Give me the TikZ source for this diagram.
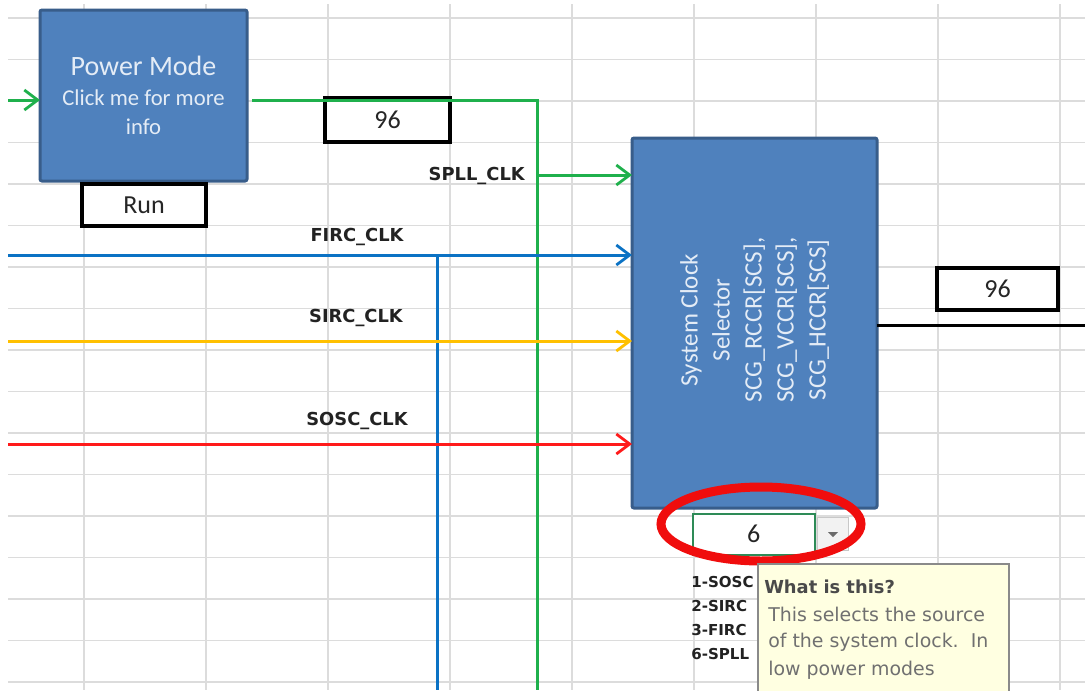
\documentclass[tikz,border=0pt]{standalone}
\usepackage{fontspec}
\setmainfont{Carlito}
\newfontfamily\dvsans{DejaVu Sans}
\usetikzlibrary{arrows.meta,calc,shapes.geometric}
\newlength{\pu}\setlength{\pu}{0.75pt}
\definecolor{boxblue}{HTML}{4F81BD}
\definecolor{boxedge}{HTML}{385D8A}
\definecolor{boxtext}{HTML}{E4ECF6}
\definecolor{gridc}{HTML}{DCDCDC}
\definecolor{lgreen}{HTML}{1FB04C}
\definecolor{lblue}{HTML}{0B72C4}
\definecolor{lyellow}{HTML}{FFC000}
\definecolor{lred}{HTML}{FF1A1A}
\definecolor{hlred}{HTML}{F00D0D}
\definecolor{cellgreen}{HTML}{2E8B57}
\definecolor{ddfill}{HTML}{F2F2F2}
\definecolor{ddedge}{HTML}{C8C8C8}
\definecolor{ddtri}{HTML}{6A6A6A}
\definecolor{tipfill}{HTML}{FFFFE1}
\definecolor{tipedge}{HTML}{8A8A8A}
\definecolor{tiptitle}{HTML}{4A4A4A}
\definecolor{tipbody}{HTML}{707070}
\definecolor{lbltext}{HTML}{222222}
\tikzset{
  gridline/.style={draw=gridc, line width=1.6\pu},
  bluebox/.style={draw=boxedge, fill=boxblue, line width=3\pu, rounded corners=2\pu,
    inner sep=0pt, outer sep=0pt, anchor=north west},
  cellbox/.style={draw=black, fill=white, line width=3.5\pu, inner sep=0pt, outer sep=0pt,
    anchor=north west, font=\fontsize{19.5}{22}\selectfont, text=black!85},
  wire/.style={line width=3\pu},
  arr/.style={-{Straight Barb[length=10pt, width=15pt, line width=2.1pt]}},
  gline/.style={wire, draw=lgreen},
  bline/.style={wire, draw=lblue},
  yline/.style={wire, draw=lyellow},
  rline/.style={wire, draw=lred},
  kline/.style={wire, draw=black},
  lbl/.style={font=\dvsans\bfseries\fontsize{13.4}{15}\selectfont, text=lbltext, inner sep=0pt},
  listlbl/.style={font=\dvsans\bfseries\fontsize{11.3}{13}\selectfont, text=lbltext, inner sep=0pt, anchor=west},
  tiptxt/.style={font=\dvsans\fontsize{14.2}{16}\selectfont, text=tipbody, inner sep=0pt, anchor=west},
}
\begin{document}
\begin{tikzpicture}[x=0.75pt, y=-0.75pt]
\useasboundingbox (0,0) rectangle (1085,690);
\fill[white] (0,0) rectangle (1085,690);
% spreadsheet grid
\foreach \gx in {84,206,...,1060} \draw[gridline] (\gx,4) -- (\gx,690);
\foreach \k [evaluate=\k as \gy using 18+41.5*\k] in {0,...,16}
  \draw[gridline] (8,\gy) -- (1085,\gy);

% blocks
\node[bluebox, minimum width=207\pu, minimum height=171\pu, align=center, text=boxtext,
  font=\fontsize{17}{22}\selectfont] (pm) at (40,10)
  {{\fontsize{21}{22}\selectfont Power Mode}\\Click me for more\\info};
\node[cellbox, minimum width=124\pu, minimum height=42\pu] (run) at (82,184) {Run};
\node[cellbox, minimum width=125\pu, minimum height=44\pu] (v96a) at (325,98) {96};
\node[bluebox, minimum width=245\pu, minimum height=370\pu] (scs) at (632,138) {};
\node[rotate=90, align=center, text=boxtext, inner sep=0pt,
  font=\fontsize{18.8}{24}\selectfont] (scstext) at ($(scs.center)+(0,-3)$)
  {System Clock\\Selector\\SCG\_RCCR[SCS],\\SCG\_VCCR[SCS],\\SCG\_HCCR[SCS]};
\node[cellbox, minimum width=121\pu, minimum height=42\pu] (v96b) at (937,268) {96};

% green (SPLL)
\coordinate (gin) at (8,100);
\draw[gline, arr] (gin) -- (gin -| pm.west);
\coordinate (gs) at (252,100);
\coordinate (gc) at (537,100);
\coordinate (gb) at (537,690);
\draw[gline] (gs) -- (gc) -- (gb);
\coordinate (gsp) at (537,175);
\draw[gline, arr] (gsp) -- (gsp -| scs.west);
\node[lbl, anchor=east] (spll) at (525,176) {SPLL\_CLK};

% blue (FIRC)
\coordinate (fin) at (8,255);
\draw[bline, arr] (fin) -- (fin -| scs.west);
\coordinate (fj) at (437,255);
\coordinate (fb) at (437,690);
\draw[bline] (fj) -- (fb);
\node[lbl] (firc) at (357,237) {FIRC\_CLK};

% yellow (SIRC)
\coordinate (sin) at (8,341);
\draw[yline, arr] (sin) -- (sin -| scs.west);
\node[lbl] (sirc) at (356,318) {SIRC\_CLK};

% red (SOSC)
\coordinate (oin) at (8,444);
\draw[rline, arr] (oin) -- (oin -| scs.west);
\node[lbl] (sosc) at (357,421) {SOSC\_CLK};

% output
\coordinate (oend) at (1085,325);
\draw[kline] (scs.east |- oend) -- (oend);

% selection cell with dropdown
\node[draw=cellgreen, fill=white, line width=1.6\pu, inner sep=0pt, anchor=north west,
  minimum width=122\pu, minimum height=41\pu, font=\fontsize{19.5}{22}\selectfont,
  text=black!85] (sel) at (692,513) {6};
\fill[cellgreen] ($(sel.south east)+(-4,-4)$) rectangle ($(sel.south east)+(3,3)$);
\node[draw=ddedge, fill=ddfill, line width=1\pu, inner sep=0pt, anchor=north west,
  minimum width=31\pu, minimum height=33\pu] (dd) at (817,517) {};
\fill[ddtri] ($(dd.center)+(-5,-2)$) -- ++(10,0) -- ++(-5,5) -- cycle;

% red highlight ellipse
\node[ellipse, draw=hlred, line width=9\pu, inner sep=0pt,
  minimum width=200\pu, minimum height=74\pu] (hl) at (761,524) {};

% option list
\node[listlbl] (o1) at (691,582) {1-SOSC};
\node[listlbl] (o2) at (691,606) {2-SIRC};
\node[listlbl] (o3) at (691,630) {3-FIRC};
\node[listlbl] (o6) at (691,654) {6-SPLL};

% tooltip
\node[draw=tipedge, fill=tipfill, line width=1.5\pu, inner sep=0pt, anchor=north west,
  minimum width=251\pu, minimum height=150\pu] (tip) at (757,563) {};
\node[tiptxt, text=tiptitle, font=\dvsans\bfseries\fontsize{13.4}{16}\selectfont] (t0) at (764,587) {What is this?};
\node[tiptxt] (t1) at (768,614) {This selects the source};
\node[tiptxt] (t2) at (768,642) {of the system clock.\ \ In};
\node[tiptxt] (t3) at (768,670) {low power modes};
\end{tikzpicture}
\end{document}
